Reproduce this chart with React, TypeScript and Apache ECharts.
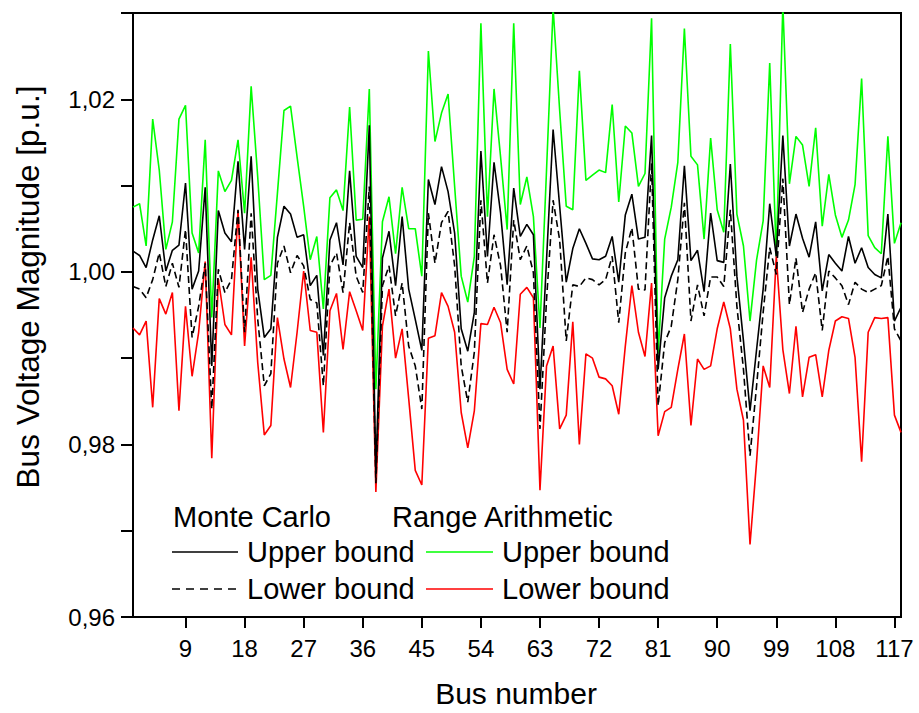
import React, { useEffect, useRef } from "react";
import * as echarts from "echarts";

const busNumbers: string[] = Array.from({ length: 118 }, (_, i) => String(i + 1));

const raUpper = [
  1.0075, 1.0079, 1.0030, 1.0177, 1.0118, 1.0026, 1.0058, 1.0177, 1.0193, 1.0045,
  1.0022, 1.0153, 0.9947, 1.0117, 1.0093, 1.0106, 1.0153, 1.0068, 1.0215, 1.0110,
  0.9991, 0.9996, 1.0091, 1.0187, 1.0192, 1.0133, 1.0076, 1.0014, 1.0041, 0.9957,
  1.0086, 1.0095, 1.0071, 1.0191, 1.0060, 1.0061, 1.0212, 0.9864, 1.0058, 1.0087,
  1.0021, 1.0098, 1.0050, 1.0050, 0.9995, 1.0256, 1.0151, 1.0184, 1.0206, 1.0099,
  0.9995, 0.9965, 1.0018, 1.0288, 1.0064, 1.0212, 1.0133, 1.0049, 1.0288, 1.0078,
  1.0110, 1.0064, 0.9935, 1.0118, 1.0306, 1.0187, 1.0076, 1.0072, 1.0233, 1.0106,
  1.0112, 1.0118, 1.0115, 1.0194, 1.0081, 1.0169, 1.0161, 1.0099, 1.0114, 1.0294,
  0.9905, 1.0038, 1.0075, 1.0127, 1.0282, 1.0134, 1.0124, 1.0038, 1.0155, 1.0072,
  1.0046, 1.0264, 1.0067, 1.0030, 0.9943, 1.0014, 1.0059, 1.0242, 1.0018, 1.0310,
  1.0102, 1.0157, 1.0147, 1.0099, 1.0167, 1.0053, 1.0113, 1.0066, 1.0040, 1.0060,
  1.0101, 1.0224, 1.0042, 1.0028, 1.0021, 1.0157, 1.0033, 1.0057,
];

const mcUpper = [
  1.0024, 1.0019, 1.0005, 1.0037, 1.0065, 1.0001, 1.0025, 1.0031, 1.0103, 0.9980,
  1.0001, 1.0098, 0.9891, 1.0071, 1.0045, 1.0035, 1.0128, 1.0026, 1.0134, 0.9980,
  0.9924, 0.9934, 1.0040, 1.0076, 1.0067, 1.0040, 1.0043, 0.9984, 0.9996, 0.9903,
  1.0037, 1.0057, 1.0008, 1.0117, 1.0018, 1.0005, 1.0170, 0.9768, 1.0016, 1.0047,
  0.9984, 1.0064, 0.9980, 0.9945, 0.9909, 1.0107, 1.0078, 1.0122, 1.0093, 1.0045,
  0.9934, 0.9908, 0.9953, 1.0140, 1.0018, 1.0127, 1.0068, 0.9985, 1.0097, 1.0041,
  1.0055, 1.0043, 0.9864, 1.0014, 1.0165, 1.0076, 0.9988, 1.0027, 1.0050, 1.0033,
  1.0015, 1.0014, 1.0018, 1.0041, 0.9988, 1.0066, 1.0090, 1.0038, 1.0040, 1.0158,
  0.9887, 0.9970, 0.9995, 1.0014, 1.0123, 1.0013, 1.0025, 0.9977, 1.0068, 1.0013,
  1.0011, 1.0125, 0.9995, 0.9920, 0.9839, 0.9910, 0.9980, 1.0079, 1.0018, 1.0158,
  1.0030, 1.0067, 1.0039, 1.0017, 1.0058, 0.9978, 1.0020, 1.0010, 1.0001, 1.0041,
  1.0010, 1.0028, 1.0005, 0.9997, 0.9993, 1.0067, 0.9943, 0.9959,
];

const mcLower = [
  0.9983, 0.9980, 0.9970, 0.9991, 1.0022, 0.9983, 1.0010, 0.9982, 1.0049, 0.9924,
  0.9960, 1.0010, 0.9841, 1.0003, 0.9976, 0.9991, 1.0072, 0.9930, 1.0068, 0.9945,
  0.9868, 0.9882, 1.0010, 1.0030, 0.9999, 1.0019, 1.0007, 0.9968, 0.9964, 0.9868,
  1.0007, 1.0022, 0.9976, 1.0057, 0.9995, 0.9976, 1.0099, 0.9755, 0.9984, 1.0007,
  0.9949, 0.9987, 0.9914, 0.9891, 0.9841, 1.0068, 1.0010, 1.0057, 1.0070, 1.0007,
  0.9891, 0.9849, 0.9907, 1.0083, 0.9987, 1.0043, 1.0007, 0.9930, 1.0060, 1.0014,
  1.0030, 0.9999, 0.9818, 0.9968, 1.0083, 1.0037, 0.9920, 0.9985, 0.9983, 0.9993,
  0.9991, 0.9985, 0.9991, 1.0018, 0.9941, 1.0022, 1.0051, 0.9980, 0.9979, 1.0126,
  0.9845, 0.9918, 0.9937, 0.9991, 1.0080, 0.9943, 0.9985, 0.9949, 0.9994, 0.9994,
  0.9983, 1.0072, 0.9960, 0.9887, 0.9787, 0.9868, 0.9953, 1.0028, 0.9997, 1.0108,
  0.9962, 1.0016, 0.9953, 0.9980, 0.9999, 0.9932, 1.0001, 0.9993, 0.9984, 0.9962,
  0.9988, 0.9980, 0.9976, 0.9980, 0.9984, 1.0018, 0.9934, 0.9920,
];

const raLower = [
  0.9935, 0.9927, 0.9943, 0.9843, 0.9969, 0.9951, 0.9976, 0.9839, 0.9960, 0.9879,
  0.9930, 1.0012, 0.9784, 0.9992, 0.9939, 0.9927, 1.0071, 0.9914, 1.0017, 0.9895,
  0.9811, 0.9822, 0.9947, 0.9899, 0.9866, 0.9930, 1.0001, 0.9932, 0.9930, 0.9814,
  0.9955, 0.9975, 0.9910, 0.9977, 0.9955, 0.9932, 1.0064, 0.9745, 0.9937, 0.9980,
  0.9900, 0.9934, 0.9853, 0.9770, 0.9753, 0.9923, 0.9926, 0.9976, 0.9960, 0.9930,
  0.9837, 0.9796, 0.9839, 0.9940, 0.9939, 0.9959, 0.9941, 0.9887, 0.9870, 0.9974,
  0.9982, 0.9970, 0.9747, 0.9891, 0.9914, 0.9818, 0.9834, 0.9942, 0.9800, 0.9905,
  0.9900, 0.9878, 0.9876, 0.9868, 0.9835, 0.9914, 0.9984, 0.9930, 0.9902, 0.9987,
  0.9810, 0.9838, 0.9843, 0.9887, 0.9928, 0.9822, 0.9899, 0.9887, 0.9891, 0.9934,
  0.9965, 0.9934, 0.9864, 0.9828, 0.9684, 0.9780, 0.9891, 0.9866, 1.0018, 0.9910,
  0.9859, 0.9937, 0.9855, 0.9901, 0.9904, 0.9855, 0.9909, 0.9943, 0.9948, 0.9946,
  0.9901, 0.9780, 0.9930, 0.9947, 0.9946, 0.9947, 0.9834, 0.9814,
];

const xTitle = "Bus number";
const yTitle = "Bus Voltage Magnitude [p.u.]";
const groupTitles = ["Monte Carlo", "Range Arithmetic"];
const boundNames = ["Upper bound", "Lower bound"];

const FONT = '"Liberation Sans", Arial, Helvetica, sans-serif';
const GREEN = "#00ff00";
const RED = "#ff0000";
const BLACK = "#000000";

export default function App() {
  const ref = useRef<HTMLDivElement>(null);

  useEffect(() => {
    if (!ref.current) return;
    const chart = echarts.init(ref.current, null, { renderer: "svg" });
    const showEvery9 = (i: number) => (i + 1) % 9 === 0;
    const legendFont = `29px ${FONT}`;
    const txt = (text: string, x: number, y: number, extra: any = {}) => ({
      type: "text",
      x,
      y,
      silent: true,
      style: {
        text,
        font: legendFont,
        fill: "#000",
        align: "left",
        verticalAlign: "middle",
        ...extra,
      },
    });
    const seg = (x1: number, x2: number, y: number, color: string, dash?: number[]) => ({
      type: "line",
      silent: true,
      shape: { x1, y1: y, x2, y2: y },
      style: { stroke: color, lineWidth: 1.5, lineDash: dash || null },
    });

    chart.setOption({
      animation: false,
      backgroundColor: "#ffffff",
      grid: {
        left: 133,
        top: 13,
        width: 768,
        height: 604,
        show: true,
        borderColor: "#000",
        borderWidth: 2,
        backgroundColor: "transparent",
      },
      xAxis: {
        type: "category",
        data: busNumbers,
        boundaryGap: false,
        axisLine: { show: true, lineStyle: { color: "#000", width: 2 } },
        axisTick: {
          show: true,
          inside: false,
          length: 11,
          interval: showEvery9,
          lineStyle: { color: "#000", width: 2 },
        },
        axisLabel: {
          interval: showEvery9,
          color: "#000",
          fontFamily: FONT,
          fontSize: 24,
          margin: 19,
        },
        splitLine: { show: false },
      },
      yAxis: {
        type: "value",
        min: 0.96,
        max: 1.03,
        interval: 0.01,
        axisLine: { show: true, lineStyle: { color: "#000", width: 2 } },
        axisTick: { show: true, inside: false, length: 12, lineStyle: { color: "#000", width: 2 } },
        axisLabel: {
          color: "#000",
          fontFamily: FONT,
          fontSize: 24,
          margin: 18,
          formatter: (v: number) =>
            Math.round(v * 100) % 2 === 0 ? v.toFixed(2).replace(".", ",") : "",
        },
        splitLine: { show: false },
      },
      series: [
        {
          name: "Range Arithmetic Upper bound",
          type: "line",
          data: raUpper,
          showSymbol: false,
          lineStyle: { color: GREEN, width: 1.6 },
          itemStyle: { color: GREEN },
          clip: true,
        },
        {
          name: "Range Arithmetic Lower bound",
          type: "line",
          data: raLower,
          showSymbol: false,
          lineStyle: { color: RED, width: 1.6 },
          itemStyle: { color: RED },
          clip: true,
        },
        {
          name: "Monte Carlo Lower bound",
          type: "line",
          data: mcLower,
          showSymbol: false,
          lineStyle: { color: BLACK, width: 1.6, type: [7, 4] },
          itemStyle: { color: BLACK },
          clip: true,
        },
        {
          name: "Monte Carlo Upper bound",
          type: "line",
          data: mcUpper,
          showSymbol: false,
          lineStyle: { color: BLACK, width: 1.6 },
          itemStyle: { color: BLACK },
          clip: true,
        },
      ],
      graphic: [
        txt(groupTitles[0], 173, 517),
        txt(groupTitles[1], 392, 517),
        seg(172, 238, 552, BLACK),
        txt(boundNames[0], 247, 552),
        seg(426, 493, 552, GREEN),
        txt(boundNames[0], 502, 552),
        seg(172, 238, 589, BLACK, [8, 6]),
        txt(boundNames[1], 247, 589),
        seg(426, 493, 589, RED),
        txt(boundNames[1], 502, 589),
        {
          type: "text",
          x: 516,
          y: 693,
          silent: true,
          style: {
            text: xTitle,
            font: `30px ${FONT}`,
            fill: "#000",
            align: "center",
            verticalAlign: "middle",
          },
        },
        {
          type: "text",
          x: 28,
          y: 287,
          rotation: Math.PI / 2,
          silent: true,
          style: {
            text: yTitle,
            font: `31.5px ${FONT}`,
            fill: "#000",
            align: "center",
            verticalAlign: "middle",
          },
        },
      ],
    });

    return () => {
      chart.dispose();
    };
  }, []);

  return (
    <div
      ref={ref}
      style={{ position: "absolute", left: 0, top: 0, width: 919, height: 713, background: "#fff" }}
    />
  );
}
